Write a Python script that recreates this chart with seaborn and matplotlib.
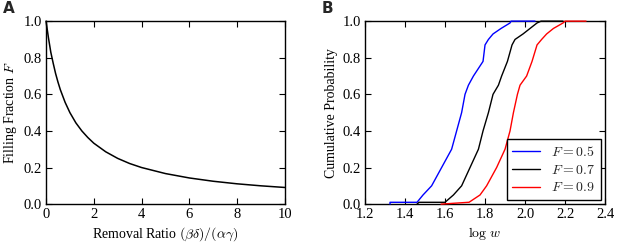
import matplotlib
matplotlib.use("Agg")
import matplotlib.pyplot as plt
import seaborn as sns
import pandas as pd

# ---- Data ----
ratio = [0, 0.1, 0.2, 0.3, 0.4, 0.5, 0.6, 0.8, 1.0, 1.25, 1.5, 1.75, 2, 2.5,
         3, 3.5, 4, 5, 6, 7, 8, 9, 10]
filling = [1.0, 0.91, 0.83, 0.77, 0.714, 0.667, 0.625, 0.556, 0.5, 0.444, 0.4,
           0.364, 0.333, 0.286, 0.25, 0.222, 0.2, 0.167, 0.143, 0.125, 0.111,
           0.1, 0.091]

cdf_levels = [0.0, 0.01, 0.01, 0.05, 0.1, 0.2, 0.3, 0.4, 0.5, 0.6, 0.65, 0.7,
              0.78, 0.87, 0.9, 0.93, 0.96, 0.99, 1.0, 1.0]
logw_f05 = [1.325, 1.325, 1.46, 1.49, 1.533, 1.583, 1.633, 1.658, 1.683, 1.70,
            1.717, 1.742, 1.79, 1.80, 1.817, 1.84, 1.88, 1.925, 1.93, 2.05]
logw_f07 = [1.46, 1.47, 1.60, 1.642, 1.683, 1.725, 1.767, 1.79, 1.817, 1.84,
            1.867, 1.883, 1.912, 1.935, 1.95, 1.99, 2.025, 2.06, 2.08, 2.19]
logw_f09 = [1.58, 1.717, 1.72, 1.775, 1.808, 1.858, 1.90, 1.925, 1.942, 1.962,
            1.975, 2.008, 2.035, 2.06, 2.083, 2.108, 2.142, 2.19, 2.20, 2.305]
series_labels = [r"$F=0.5$", r"$F=0.7$", r"$F=0.9$"]
series_colors = ["blue", "black", "red"]

# ---- Style ----
sns.set_style("ticks")
plt.rcParams.update({
    "font.family": ["Liberation Serif", "DejaVu Serif"],
    "mathtext.fontset": "cm",
    "font.size": 10,
    "axes.edgecolor": "black",
    "axes.linewidth": 1.0,
    "xtick.direction": "in",
    "ytick.direction": "in",
    "xtick.top": True,
    "ytick.right": True,
    "xtick.major.size": 4,
    "ytick.major.size": 4,
    "xtick.color": "black",
    "ytick.color": "black",
    "axes.labelcolor": "black",
})

fig = plt.figure(figsize=(6.17, 2.43), dpi=100)
axA = fig.add_axes([0.0746, 0.16, 0.387, 0.753])
axB = fig.add_axes([0.5916, 0.16, 0.389, 0.753])

dfA = pd.DataFrame({"x": ratio, "y": filling})
sns.lineplot(data=dfA, x="x", y="y", ax=axA, color="black", linewidth=1.1,
             sort=False, estimator=None, clip_on=False)
axA.set_xlim(0, 10)
axA.set_ylim(0, 1)
axA.set_xticks([0, 2, 4, 6, 8, 10])
axA.set_yticks([0, 0.2, 0.4, 0.6, 0.8, 1.0])
axA.set_yticklabels(["0.0", "0.2", "0.4", "0.6", "0.8", "1.0"])
axA.set_xlabel(r"Removal Ratio $(\beta\delta)/(\alpha\gamma)$", fontsize=10,
               labelpad=3)
axA.set_ylabel(r"Filling Fraction $F$", fontsize=10, labelpad=3)

for xs, lab, col in zip([logw_f05, logw_f07, logw_f09], series_labels, series_colors):
    df = pd.DataFrame({"x": xs, "y": cdf_levels})
    sns.lineplot(data=df, x="x", y="y", ax=axB, color=col, linewidth=1.0,
                 sort=False, estimator=None, label=lab, clip_on=False,
                 zorder=3)
axB.set_xlim(1.2, 2.4)
axB.set_ylim(0, 1)
axB.set_xticks([1.2, 1.4, 1.6, 1.8, 2.0, 2.2, 2.4])
axB.set_yticks([0, 0.2, 0.4, 0.6, 0.8, 1.0])
axB.set_yticklabels(["0.0", "0.2", "0.4", "0.6", "0.8", "1.0"])
axB.set_xlabel(r"$\log\,w$", fontsize=10, labelpad=3)
axB.set_ylabel("Cumulative Probability", fontsize=10, labelpad=3)
leg = axB.legend(loc="lower right", fontsize=10, frameon=True, fancybox=False,
                 framealpha=1, edgecolor="black", handlelength=2.0,
                 borderaxespad=0.3, labelspacing=0.35)
leg.get_frame().set_linewidth(1.0)
leg.set_zorder(5)

for ax in (axA, axB):
    for sp in ax.spines.values():
        sp.set_visible(True)
        sp.set_color("black")
        sp.set_zorder(2)
    ax.tick_params(labelsize=10.5, pad=3)

fig.text(0.004, 0.995, "A", fontsize=11, fontweight="bold",
         family="DejaVu Sans", va="top", ha="left")
fig.text(0.522, 0.995, "B", fontsize=11, fontweight="bold",
         family="DejaVu Sans", va="top", ha="left")

fig.savefig("out.png", dpi=100)
